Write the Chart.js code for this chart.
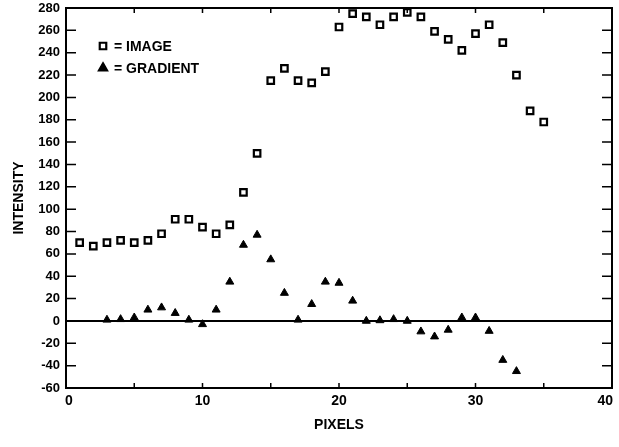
<!DOCTYPE html>
<html>
<head>
<meta charset="utf-8">
<script src="https://cdn.jsdelivr.net/npm/chart.js@4.4.1/dist/chart.umd.min.js"></script>
<style>
  html, body { margin: 0; padding: 0; background: #fff; }
  #wrap { width: 619px; height: 447px; position: relative; }
</style>
</head>
<body>
<div id="wrap"><canvas id="chart_intensity"></canvas></div>
<script>
// data
const imagePixels = [1,2,3,4,5,6,7,8,9,10,11,12,13,14,15,16,17,18,19,20,21,22,23,24,25,26,27,28,29,30,31,32,33,34,35];
const imageValues = [70,67,70,72,70,72,78,91,91,84,78,86,115,150,215,226,215,213,223,263,275,272,265,272,276,272,259,252,242,257,265,249,220,188,178];
const gradientPixels = [3,4,5,6,7,8,9,10,11,12,13,14,15,16,17,18,19,20,21,22,23,24,25,26,27,28,29,30,31,32,33];
const gradientValues = [1,1.5,3,10,12,7,1,-3,10,35,68,77,55,25,1,15,35,34,18,0,0.5,1.5,0,-9.5,-14,-8,3,3,-9,-35,-45];
const xLabelTicks = [0,10,20,30,40];
const xMinorTicks = [0,5,10,15,20,25,30,35,40];
const yTicks = [-60,-40,-20,0,20,40,60,80,100,120,140,160,180,200,220,240,260,280];
const legendLabels = ['= IMAGE', '= GRADIENT'];

const fontFam = '"Liberation Sans", Arial, sans-serif';

// frame, inward ticks, zero line, x labels, legend
const framePlugin = {
  id: 'framePlugin',
  beforeDatasetsDraw(chart) {
    const ctx = chart.ctx;
    const a = chart.chartArea;
    const y0 = chart.scales.y.getPixelForValue(0);
    ctx.save();
    ctx.strokeStyle = '#000';
    ctx.lineWidth = 2;
    ctx.beginPath();
    ctx.moveTo(a.left, y0);
    ctx.lineTo(a.right, y0);
    ctx.stroke();
    ctx.restore();
  },
  afterDatasetsDraw(chart) {
    const ctx = chart.ctx;
    const a = chart.chartArea;
    const xs = chart.scales.x, ys = chart.scales.y;
    ctx.save();
    ctx.strokeStyle = '#000';
    ctx.lineWidth = 2;
    ctx.strokeRect(a.left, a.top, a.right - a.left, a.bottom - a.top);
    ctx.lineWidth = 1.5;
    ctx.beginPath();
    xMinorTicks.forEach(v => {
      const px = xs.getPixelForValue(v);
      ctx.moveTo(px, a.bottom); ctx.lineTo(px, a.bottom - 5);
      ctx.moveTo(px, a.top); ctx.lineTo(px, a.top + 5);
    });
    yTicks.forEach(v => {
      const py = ys.getPixelForValue(v);
      ctx.moveTo(a.left, py); ctx.lineTo(a.left + 10, py);
      ctx.moveTo(a.right, py); ctx.lineTo(a.right - 10, py);
    });
    ctx.stroke();

    // x tick labels, end ones kept inside the frame
    ctx.font = 'bold 14px ' + fontFam;
    ctx.fillStyle = '#000';
    ctx.textBaseline = 'middle';
    xLabelTicks.forEach((v, i) => {
      let px = xs.getPixelForValue(v);
      ctx.textAlign = 'center';
      if (i === xLabelTicks.length - 1) { ctx.textAlign = 'right'; px += 1; }
      if (i === 0) { ctx.textAlign = 'left'; px -= 1; }
      ctx.fillText(String(v), px, a.bottom + 13);
    });

    // legend inside the plot
    const ds = chart.data.datasets;
    const lx = 103, ly = [46, 68];
    ctx.textAlign = 'left';
    ds.forEach((d, i) => {
      Chart.helpers.drawPoint(ctx, {
        pointStyle: d.pointStyle, radius: d.pointRadius, borderWidth: d.borderWidth, rotation: 0
      }, lx, ly[i]);
      ctx.fillStyle = d.backgroundColor;
      ctx.strokeStyle = '#000';
      ctx.lineWidth = d.borderWidth;
      ctx.fill();
      ctx.stroke();
      ctx.fillStyle = '#000';
      ctx.fillText(legendLabels[i], lx + 11, ly[i] + 1);
    });
    ctx.restore();
  }
};

const chartData = {
  datasets: [
    {
      label: 'IMAGE',
      data: imagePixels.map((p, i) => ({ x: p, y: imageValues[i] })),
      pointStyle: 'rect',
      pointRadius: 4.6,
      borderWidth: 2.2,
      borderColor: '#000',
      backgroundColor: '#fff'
    },
    {
      label: 'GRADIENT',
      data: gradientPixels.map((p, i) => ({ x: p, y: gradientValues[i] })),
      pointStyle: 'triangle',
      pointRadius: 4.6,
      borderWidth: 1,
      borderColor: '#000',
      backgroundColor: '#000'
    }
  ]
};

const chartConfig = {
  type: 'scatter',
  data: chartData,
  options: {
    responsive: false,
    animation: false,
    layout: { padding: { top: 0, right: 0, left: 2, bottom: 0 } },
    plugins: {
      legend: { display: false },
      tooltip: { enabled: false }
    },
    scales: {
      x: {
        type: 'linear',
        min: 0,
        max: 40,
        afterBuildTicks: s => { s.ticks = xLabelTicks.map(v => ({ value: v })); },
        afterFit: s => { s.height = 59; s.paddingRight = 7; s.paddingLeft = 0; },
        grid: { display: false, drawTicks: false },
        border: { display: false },
        ticks: { display: false, font: { family: fontFam, size: 14, weight: 'bold' } },
        title: {
          display: true,
          text: 'PIXELS',
          color: '#000',
          padding: { top: 4, bottom: 13 },
          font: { family: fontFam, size: 14, weight: 'bold' }
        }
      },
      y: {
        type: 'linear',
        min: -60,
        max: 280,
        afterBuildTicks: s => { s.ticks = yTicks.map(v => ({ value: v })); },
        afterFit: s => { s.width = 64; s.paddingTop = 8; s.paddingBottom = 0; },
        grid: { display: false, drawTicks: false },
        border: { display: false },
        ticks: { color: '#000', padding: 6, font: { family: fontFam, size: 13, weight: 'bold' } },
        title: {
          display: true,
          text: 'INTENSITY',
          color: '#000',
          padding: { top: 9, bottom: 0 },
          font: { family: fontFam, size: 14, weight: 'bold' }
        }
      }
    }
  },
  plugins: [framePlugin]
};

const chartElement = document.getElementById('chart_intensity');
chartElement.width = 619;
chartElement.height = 447;
const chart = new Chart(chartElement, chartConfig);
</script>
</body>
</html>
